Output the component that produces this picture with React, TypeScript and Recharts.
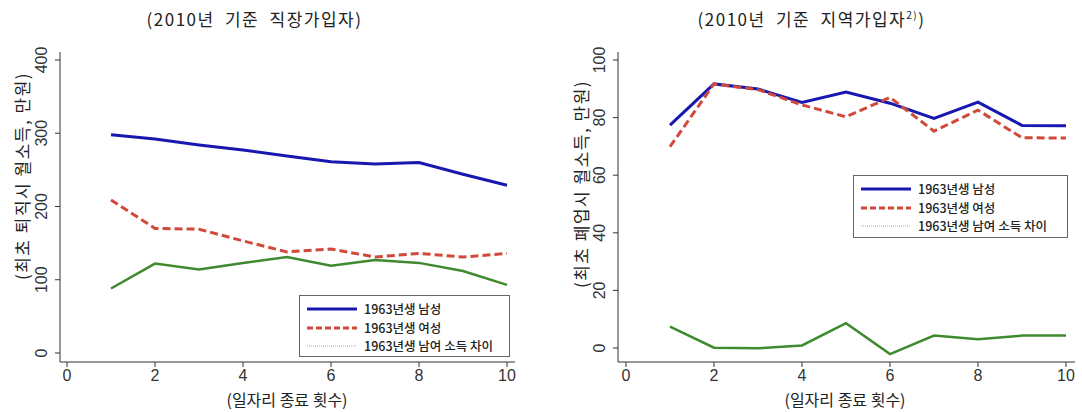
import { LineChart, Line, XAxis, YAxis } from "recharts";

const turns = [1, 2, 3, 4, 5, 6, 7, 8, 9, 10];
const xTicks = [0, 2, 4, 6, 8, 10];

// 2010 기준 직장가입자 (만원)
const officeMale = [298, 292, 284, 277, 269, 261, 258, 260, 244, 229];
const officeFemale = [209, 170, 169, 153, 138, 142, 131, 136, 131, 136];
const officeGap = [88, 122, 114, 123, 131, 119, 127, 123, 112, 93];
const officeTicks = [0, 100, 200, 300, 400];

// 2010 기준 지역가입자 (만원)
const selfMale = [77.4, 91.7, 89.9, 85.3, 88.9, 85.0, 79.7, 85.4, 77.3, 77.2];
const selfFemale = [69.9, 91.7, 89.7, 84.4, 80.3, 87.0, 75.3, 82.6, 73.0, 72.9];
const selfGap = [7.4, 0.1, -0.1, 0.9, 8.6, -2.1, 4.3, 3.0, 4.3, 4.3];
const selfTicks = [0, 20, 40, 60, 80, 100];

const legendNames = ["1963년생 남성", "1963년생 여성", "1963년생 남여 소득 차이"];

const BLUE = "#1818b0";
const RED = "#d0493a";
const GREEN = "#3f8a2f";
const KR = "'Noto Sans CJK KR', sans-serif";
const NUM = "'Liberation Sans', Arial, sans-serif";

const build = (m: number[], f: number[], g: number[]) =>
  turns.map((t, i) => ({ turn: t, male: m[i], female: f[i], gap: g[i] }));

const YTick = (props: any) => {
  const { x, y, payload } = props;
  const bx = x - 5;
  return (
    <text
      x={bx}
      y={y}
      transform={`rotate(-90, ${bx}, ${y})`}
      textAnchor="middle"
      fontFamily={NUM}
      fontSize={16}
      fill="#333"
    >
      {payload.value}
    </text>
  );
};

function Legendbox({ box }: { box: { left: number; top: number; width: number; height: number } }) {
  const rows = [14, 33, 51];
  const styles = [
    { stroke: BLUE, dash: undefined, w: 3 },
    { stroke: RED, dash: "6 3", w: 3 },
    { stroke: "#c8c8c8", dash: "1 1", w: 1.5 },
  ];
  return (
    <div
      style={{
        position: "absolute",
        left: box.left,
        top: box.top,
        width: box.width,
        height: box.height,
        border: "1px solid #666",
        background: "#fff",
        boxSizing: "border-box",
      }}
    >
      <svg width={box.width} height={box.height} style={{ position: "absolute", left: -1, top: -1 }}>
        {legendNames.map((n, i) => (
          <g key={n}>
            <line
              x1={8}
              x2={58}
              y1={rows[i]}
              y2={rows[i]}
              stroke={styles[i].stroke}
              strokeWidth={styles[i].w}
              strokeDasharray={styles[i].dash}
            />
            <text x={65} y={rows[i] + 4.5} fontFamily={KR} fontSize={12.5} fontWeight={500} fill="#222">
              {n}
            </text>
          </g>
        ))}
      </svg>
    </div>
  );
}

function Panel(p: any) {
  return (
    <div style={{ position: "absolute", left: p.left, top: 0, width: 541, height: 412 }}>
      <LineChart width={541} height={412} data={p.data} margin={p.margin}>
        <XAxis
          dataKey="turn"
          type="number"
          domain={[0, 10]}
          ticks={xTicks}
          padding={p.xPad}
          height={50}
          stroke="#333"
          tickSize={5}
          tickMargin={3}
          tick={{ fontFamily: NUM, fontSize: 16, fill: "#333" }}
          label={{
            content: () => (
              <text x={p.xTitleX} y={406} textAnchor="middle" fontFamily={KR} fontSize={16} fill="#222">
                (일자리 종료 횟수)
              </text>
            ),
          }}
        />
        <YAxis
          type="number"
          domain={p.domain}
          ticks={p.ticks}
          allowDataOverflow
          width={p.yWidth}
          stroke="#333"
          tickSize={5}
          tickMargin={3}
          tick={<YTick />}
          label={{
            content: () => (
              <text
                x={p.yTitleX}
                y={p.yTitleY}
                transform={`rotate(-90, ${p.yTitleX}, ${p.yTitleY})`}
                textAnchor="middle"
                fontFamily={KR}
                fontSize={17}
                letterSpacing={1.5}
                fill="#222"
              >
                {p.yTitle}
              </text>
            ),
          }}
        />
        <Line dataKey="male" stroke={BLUE} strokeWidth={3} dot={false} isAnimationActive={false} />
        <Line
          dataKey="female"
          stroke={RED}
          strokeWidth={3}
          strokeDasharray="8 4"
          dot={false}
          isAnimationActive={false}
        />
        <Line dataKey="gap" stroke={GREEN} strokeWidth={2.5} dot={false} isAnimationActive={false} />
      </LineChart>
      <div
        style={{
          position: "absolute",
          left: p.titleShift,
          width: 541,
          top: 6,
          textAlign: "center",
          fontFamily: KR,
          fontSize: 17,
          letterSpacing: 1.5,
          wordSpacing: 5,
          color: "#222",
        }}
      >
        {p.title}
        {p.titleSup ? <sup style={{ fontSize: 10 }}>{p.titleSup}</sup> : null}
        {p.titleSup ? ")" : null}
      </div>
    </div>
  );
}

export default function App() {
  return (
    <div style={{ position: "absolute", left: 0, top: 0, width: 1082, height: 412, background: "#fff" }}>
      <Panel
        left={0}
        title="(2010년 기준 직장가입자)"
        titleShift={-16}
        yTitle="(최초 퇴직시 월소득, 만원)"
        yTitleX={29}
        yTitleY={176}
        xTitleX={287}
        data={build(officeMale, officeFemale, officeGap)}
        ticks={officeTicks}
        domain={[-12.3, 410.9]}
        margin={{ top: 52, right: 26, left: 0, bottom: 0 }}
        yWidth={60}
        xPad={{ left: 7, right: 8 }}
      />
      <Panel
        left={541}
        title="(2010년 기준 지역가입자"
        titleSup="2)"
        titleShift={0}
        yTitle="(최초 폐업시 월소득, 만원)"
        yTitleX={47}
        yTitleY={184}
        xTitleX={304}
        data={build(selfMale, selfFemale, selfGap)}
        ticks={selfTicks}
        domain={[-4.86, 102.78]}
        margin={{ top: 52, right: 7, left: 0, bottom: 0 }}
        yWidth={77}
        xPad={{ left: 8, right: 9 }}
      />
      <Legendbox box={{ left: 299, top: 295, width: 211, height: 62 }} />
      <Legendbox box={{ left: 853, top: 175, width: 215, height: 63 }} />
    </div>
  );
}
